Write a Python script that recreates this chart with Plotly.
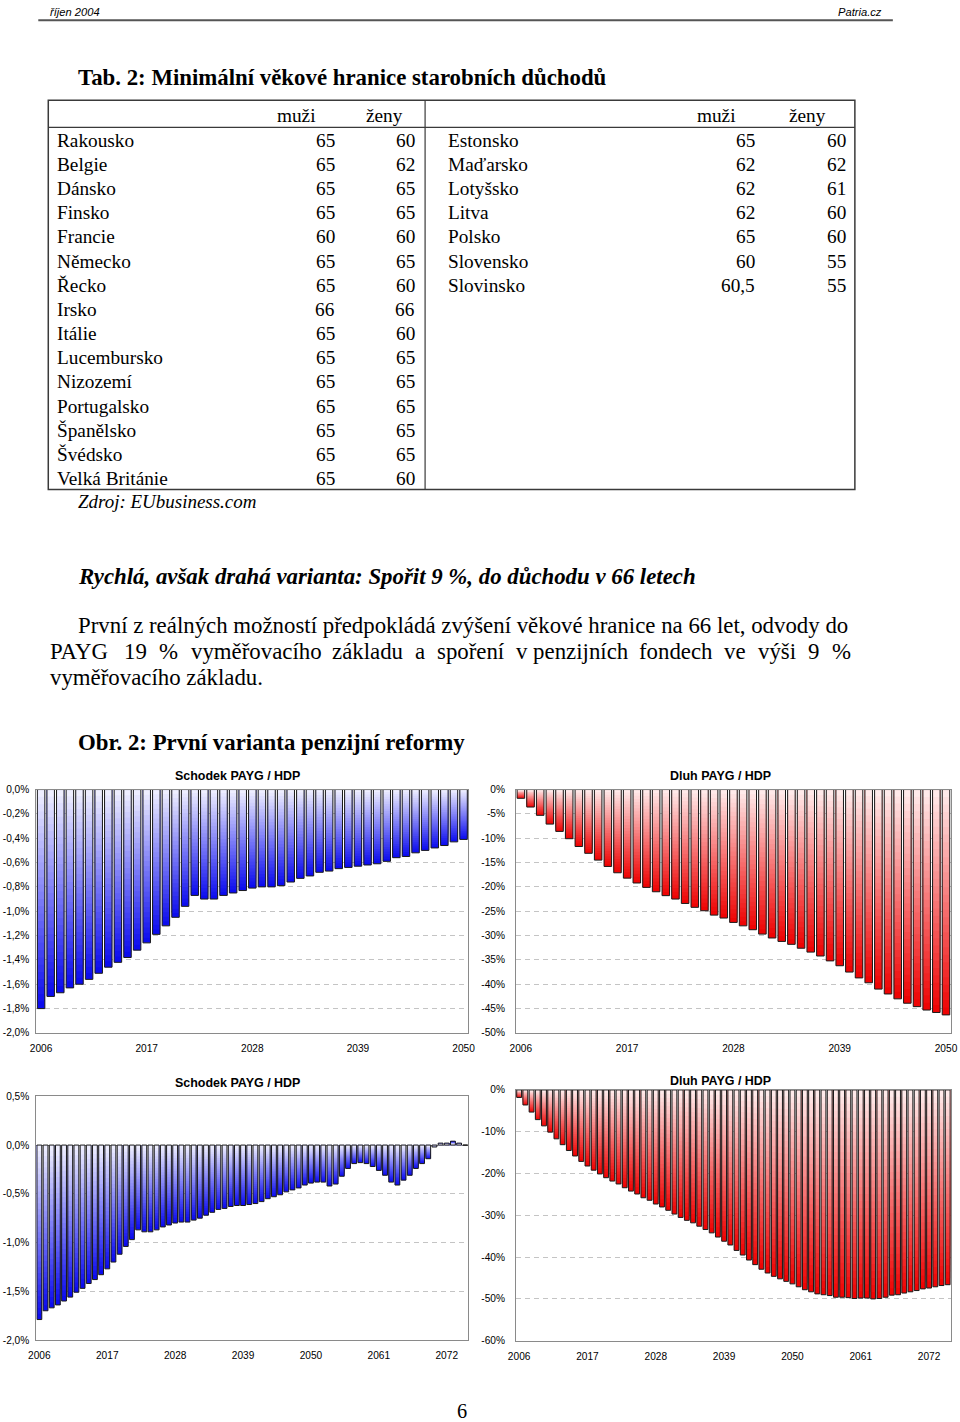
import plotly.graph_objects as go

# The page is photographed with a small offset and scale; positions below are given in the
# 960x1422 target picture and converted to figure coordinates.
SX, OX = 0.985, 7.7
SY, OY = 0.992, 5.7
FW = int(round((960 - OX) / SX)) + 1
FH = int(round((1422 - OY) / SY)) + 1

SERIF = "Liberation Serif, Times New Roman, serif"
SANS = "Liberation Sans, Arial, sans-serif"
NARROW = "Liberation Sans Narrow, Liberation Sans, Arial, sans-serif"

# ---------------- data ----------------
countries_left = ["Rakousko", "Belgie", "Dánsko", "Finsko", "Francie", "Německo", "Řecko", "Irsko",
                  "Itálie", "Lucembursko", "Nizozemí", "Portugalsko", "Španělsko", "Švédsko", "Velká Británie"]
muzi_left = [65, 65, 65, 65, 60, 65, 65, 66, 65, 65, 65, 65, 65, 65, 65]
zeny_left = [60, 62, 65, 65, 60, 65, 60, 66, 60, 65, 65, 65, 65, 65, 60]
countries_right = ["Estonsko", "Maďarsko", "Lotyšsko", "Litva", "Polsko", "Slovensko", "Slovinsko"]
muzi_right = [65, 62, 62, 62, 65, 60, 60.5]
zeny_right = [60, 62, 61, 60, 60, 55, 55]

years_short = list(range(2006, 2051))
years_long = list(range(2006, 2076))

schodek_a = [-1.80, -1.70, -1.67, -1.63, -1.60, -1.56, -1.51, -1.46, -1.42, -1.38,
             -1.32, -1.26, -1.19, -1.12, -1.05, -0.96, -0.87, -0.90, -0.90, -0.87,
             -0.85, -0.83, -0.81, -0.80, -0.80, -0.79, -0.76, -0.73, -0.71, -0.68,
             -0.67, -0.65, -0.64, -0.63, -0.62, -0.61, -0.59, -0.56, -0.55, -0.52,
             -0.50, -0.48, -0.46, -0.43, -0.41]
dluh_a = [-1.8, -3.6, -5.3, -7.1, -8.6, -10.1, -11.7, -13.1, -14.5, -15.8,
          -17.1, -18.2, -19.2, -20.1, -21.0, -21.8, -22.5, -23.4, -24.2, -24.9,
          -25.8, -26.4, -27.3, -28.0, -28.8, -29.7, -30.5, -31.2, -31.8, -32.6,
          -33.4, -34.2, -35.2, -36.2, -37.5, -38.7, -39.7, -41.0, -42.0, -43.0,
          -43.9, -44.6, -45.3, -45.8, -46.3]
schodek_b = [-1.79, -1.70, -1.67, -1.64, -1.60, -1.56, -1.51, -1.47, -1.42, -1.38,
             -1.33, -1.27, -1.20, -1.12, -1.04, -0.97, -0.87, -0.89, -0.89, -0.87,
             -0.84, -0.82, -0.80, -0.79, -0.79, -0.77, -0.75, -0.72, -0.69, -0.66,
             -0.65, -0.63, -0.62, -0.62, -0.61, -0.60, -0.58, -0.55, -0.53, -0.51,
             -0.48, -0.46, -0.44, -0.41, -0.39, -0.38, -0.38, -0.42, -0.40, -0.32,
             -0.24, -0.19, -0.18, -0.19, -0.22, -0.26, -0.31, -0.38, -0.41, -0.36,
             -0.31, -0.24, -0.19, -0.14, -0.02, 0.02, 0.02, 0.04, 0.02, 0.0]
dluh_b = [-1.8, -3.6, -5.3, -7.1, -8.6, -10.1, -11.7, -13.1, -14.5, -15.8,
          -17.1, -18.2, -19.2, -20.1, -21.0, -21.8, -22.5, -23.4, -24.2, -24.9,
          -25.8, -26.4, -27.3, -28.0, -28.8, -29.7, -30.5, -31.2, -31.8, -32.6,
          -33.4, -34.2, -35.2, -36.2, -37.1, -38.4, -39.5, -40.7, -41.8, -42.9,
          -43.8, -44.6, -45.2, -45.8, -46.4, -47.1, -47.8, -48.3, -48.8, -49.0,
          -49.2, -49.6, -49.6, -49.7, -49.9, -49.8, -49.8, -50.0, -49.9, -49.6,
          -49.1, -49.0, -48.6, -48.3, -48.0, -47.6, -47.4, -47.1, -46.8, -46.6]

ticks_schodek_a = [0.0, -0.2, -0.4, -0.6, -0.8, -1.0, -1.2, -1.4, -1.6, -1.8, -2.0]
ticks_dluh_a = [0, -5, -10, -15, -20, -25, -30, -35, -40, -45, -50]
ticks_schodek_b = [0.5, 0.0, -0.5, -1.0, -1.5, -2.0]
ticks_dluh_b = [0, -10, -20, -30, -40, -50, -60]
xticks_short = [2006, 2017, 2028, 2039, 2050]
xticks_long = [2006, 2017, 2028, 2039, 2050, 2061, 2072]

# ---------------- helpers ----------------
def fmt1(v):
    return f"{v:.1f}".replace(".", ",") + "%"

def fmt0(v):
    return f"{v:.0f}%"

def fmtnum(v):
    return (f"{v:.1f}".replace(".", ",")) if v != int(v) else str(int(v))

def px(x):
    return ((x - OX) / SX) / FW

def py(y):
    return 1 - ((y - OY) / SY) / FH

def fs(size):
    return size / SX

fig = go.Figure()
N = 30
BLUE_TOP, BLUE_BOT = (242, 242, 255), (8, 8, 238)
RED_TOP, RED_BOT = (255, 238, 238), (238, 0, 0)

def mix(c1, c2, t):
    return "rgb(%d,%d,%d)" % tuple(round(a + (b - a) * t) for a, b in zip(c1, c2))

def gradient_bars(xs, vals, ax, ay, ctop, cbot):
    for j in range(N, 0, -1):
        fig.add_trace(go.Bar(
            x=xs, y=[v * j / N for v in vals], xaxis=ax, yaxis=ay,
            marker=dict(color=mix(ctop, cbot, (j - 0.5) / N), line=dict(width=0)),
            showlegend=False, hoverinfo="skip"))
    fig.add_trace(go.Bar(
        x=xs, y=vals, xaxis=ax, yaxis=ay,
        marker=dict(color="rgba(0,0,0,0)", line=dict(width=1, color="#1a1a1a")),
        showlegend=False, hoverinfo="skip"))

gradient_bars(years_short, schodek_a, "x", "y", BLUE_TOP, BLUE_BOT)
gradient_bars(years_short, dluh_a, "x2", "y2", RED_TOP, RED_BOT)
gradient_bars(years_long, schodek_b, "x3", "y3", BLUE_TOP, BLUE_BOT)
gradient_bars(years_long, dluh_b, "x4", "y4", RED_TOP, RED_BOT)

tickfont = dict(family=SANS, size=fs(10), color="black")

def yax(dom, rng, vals, fmt, anchor, standoff):
    return dict(domain=dom, range=rng, tickvals=vals, ticktext=[fmt(v) for v in vals],
                showgrid=True, gridcolor="#c4c4c4", griddash="5px,4px", gridwidth=1,
                zeroline=True, zerolinecolor="#7a7a7a", zerolinewidth=1,
                showline=True, linecolor="#8a8a8a", linewidth=1, mirror=True,
                ticks="", tickfont=tickfont, anchor=anchor, fixedrange=True,
                ticklabelstandoff=standoff)

def xax(dom, rng, vals, anchor):
    return dict(domain=dom, range=rng, tickvals=vals, ticktext=[str(v) for v in vals],
                showgrid=False, zeroline=False, showline=True, linecolor="#8a8a8a",
                linewidth=1, mirror=True, ticks="", tickfont=tickfont, anchor=anchor,
                fixedrange=True, ticklabelstandoff=6)

xd_left = [px(36), px(468.3)]
xd_right = [px(516), px(951)]
yd_top = [py(1033.3), py(790)]
yd_bot3 = [py(1340.3), py(1096.7)]
yd_bot4 = [py(1341), py(1090.3)]

fig.update_layout(
    width=FW, height=FH, margin=dict(l=0, r=0, t=0, b=0),
    paper_bgcolor="white", plot_bgcolor="white",
    barmode="overlay", bargap=0.22, showlegend=False,
    xaxis=xax(xd_left, [2005.5, 2050.5], xticks_short, "y"),
    yaxis=yax(yd_top, [-2.0, 0.0], ticks_schodek_a, fmt1, "x", 4),
    xaxis2=xax(xd_right, [2005.5, 2050.5], xticks_short, "y2"),
    yaxis2=yax(yd_top, [-50, 0], ticks_dluh_a, fmt0, "x2", 8),
    xaxis3=xax(xd_left, [2005.5, 2075.5], xticks_long, "y3"),
    yaxis3=yax(yd_bot3, [-2.0, 0.5], ticks_schodek_b, fmt1, "x3", 4),
    xaxis4=xax(xd_right, [2005.5, 2075.5], xticks_long, "y4"),
    yaxis4=yax(yd_bot4, [-60, 0], ticks_dluh_b, fmt0, "x4", 8),
)

annotations = []
def txt(s, x, y, size, anchor="left", family=SERIF, bold=False, italic=False, color="black"):
    if bold:
        s = f"<b>{s}</b>"
    if italic:
        s = f"<i>{s}</i>"
    annotations.append(dict(text=s, x=px(x), y=py(y), xref="paper", yref="paper",
                            xanchor=anchor, yanchor="middle", showarrow=False,
                            font=dict(family=family, size=fs(size), color=color)))

# header (kept fully inside the photographed area)
txt("říjen 2004", 48, 13, 11, family=NARROW, italic=True)
txt("Patria.cz", 884, 13, 11, anchor="right", family=NARROW, italic=True)

BFS = 22.5
txt("Tab. 2: Minimální věkové hranice starobních důchodů", 76, 78, BFS, bold=True)

TFS = 19
txt("muži", 296, 116, TFS, anchor="center")
txt("ženy", 384, 116, TFS, anchor="center")
txt("muži", 717, 116, TFS, anchor="center")
txt("ženy", 808, 116, TFS, anchor="center")
for i, (c, m, z) in enumerate(zip(countries_left, muzi_left, zeny_left)):
    yy = 141 + i * 24.15
    txt(c, 55, yy, TFS)
    txt(fmtnum(m), 337, yy, TFS, anchor="right")
    txt(fmtnum(z), 417, yy, TFS, anchor="right")
for i, (c, m, z) in enumerate(zip(countries_right, muzi_right, zeny_right)):
    yy = 141 + i * 24.15
    txt(c, 446, yy, TFS)
    txt(fmtnum(m), 757, yy, TFS, anchor="right")
    txt(fmtnum(z), 848, yy, TFS, anchor="right")

txt("Zdroj: EUbusiness.com", 76, 502, 18.7, italic=True)
txt("Rychlá, avšak drahá varianta: Spořit 9 %, do důchodu v 66 letech", 76, 577, BFS, bold=True, italic=True)
txt("První z reálných možností předpokládá zvýšení věkové hranice na 66 let, odvody do", 76, 626, BFS)

# justified second line: word widths in Times em units (per 1000)
line2_words = ["PAYG", "19", "%", "vyměřovacího", "základu", "a", "spoření", "v\u00a0penzijních",
               "fondech", "ve", "výši", "9", "%"]
line2_em = [2722, 1000, 833, 5721, 3110, 444, 2944, 4916, 3221, 944, 1667, 500, 833]
x_left, x_right = 48, 849
widths = [e / 1000 * BFS for e in line2_em]
gap = (x_right - x_left - sum(widths)) / (len(widths) - 1)
xc = x_left
for w_, wd in zip(line2_words, widths):
    txt(w_, xc, 652, BFS)
    xc += wd + gap

txt("vyměřovacího základu.", 48, 678, BFS)
txt("Obr. 2: První varianta penzijní reformy", 76, 743, BFS, bold=True)
txt("6", 462, 1411, 20, anchor="center")

# chart titles
txt("Schodek PAYG / HDP", 237, 776, 12.3, anchor="center", family=SANS, bold=True)
txt("Dluh PAYG / HDP", 721, 776, 12.3, anchor="center", family=SANS, bold=True)
txt("Schodek PAYG / HDP", 237, 1083, 12.3, anchor="center", family=SANS, bold=True)
txt("Dluh PAYG / HDP", 721, 1081, 12.3, anchor="center", family=SANS, bold=True)

fig.update_layout(annotations=annotations)

# page/table rules
LC = "#3a3a3a"
shapes = [
    dict(type="line", xref="paper", yref="paper", x0=px(38), x1=px(893), y0=py(21), y1=py(21),
         line=dict(color="#555555", width=2)),
    dict(type="rect", xref="paper", yref="paper", x0=px(48), x1=px(855), y0=py(490), y1=py(101),
         line=dict(color=LC, width=1.5)),
    dict(type="line", xref="paper", yref="paper", x0=px(425), x1=px(425), y0=py(490), y1=py(101),
         line=dict(color=LC, width=1.2)),
    dict(type="line", xref="paper", yref="paper", x0=px(48), x1=px(855), y0=py(128), y1=py(128),
         line=dict(color=LC, width=1.2)),
]
fig.update_layout(shapes=shapes)

fig.write_html("out.html")
